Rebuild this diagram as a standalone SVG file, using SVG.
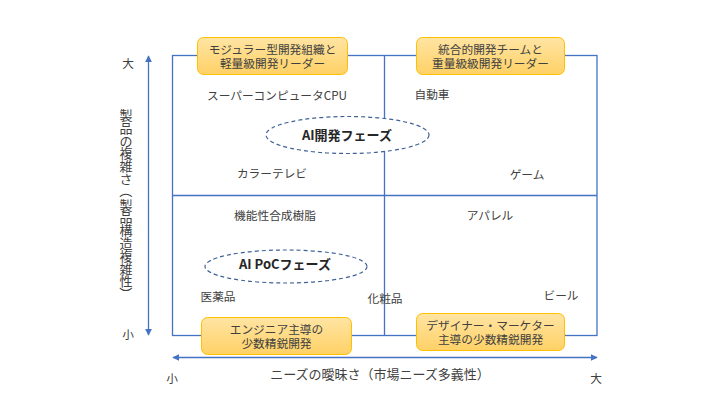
<svg xmlns="http://www.w3.org/2000/svg" width="720" height="405" viewBox="0 0 720 405">
<style>
.t{font-family:"Noto Sans CJK JP","Noto Sans",sans-serif;font-size:11.7px;fill:#404040;text-anchor:middle;dominant-baseline:central}
.ax{font-size:13px}
.b{font-family:"Noto Sans CJK JP","Noto Sans",sans-serif;font-size:13px;font-weight:bold;fill:#262626;text-anchor:middle;dominant-baseline:central}
.ln{stroke:#4472C4;stroke-width:1.3;fill:none}
.box{fill:url(#g);stroke:#FFC000;stroke-width:1}
.ell{fill:#fff;stroke:#3F6198;stroke-width:1.2;stroke-dasharray:4 3}
</style>
<defs>
<linearGradient id="g" x1="0" y1="0" x2="0" y2="1">
<stop offset="0" stop-color="#FFE4A3"/>
<stop offset="1" stop-color="#FFD166"/>
</linearGradient>
<marker id="ah" viewBox="0 0 10 10" refX="9" refY="5" markerWidth="7" markerHeight="7" markerUnits="userSpaceOnUse" orient="auto-start-reverse">
<path d="M0,0L10,5L0,10z" fill="#4472C4"/>
</marker>
</defs>
<rect width="720" height="405" fill="#fff"/>
<g id="connectors">
<rect class="ln" x="172.5" y="55.5" width="424.5" height="280"/>
<line class="ln" x1="384.5" y1="55.5" x2="384.5" y2="335.5"/>
<line class="ln" x1="172.5" y1="195.5" x2="597" y2="195.5"/>
<line class="ln" x1="148.5" y1="56" x2="148.5" y2="335" marker-start="url(#ah)" marker-end="url(#ah)"/>
<line class="ln" x1="173" y1="357.5" x2="597" y2="357.5" marker-start="url(#ah)" marker-end="url(#ah)"/>
</g>
<g id="axis-labels">
<text class="t" x="128" y="62">大</text>
<text class="t" x="128" y="333">小</text>
<text class="t" x="172" y="377">小</text>
<text class="t" x="596" y="377">大</text>
<text class="t ax" x="126 126 126 126 126 126" y="114.4 127.2 140 152.8 165.6 178.4">製品の複雑さ</text>
<text class="t ax" x="126" y="191.2" transform="rotate(90 126 191.2)">（</text>
<text class="t ax" x="126 126 126 126 126 126 126" y="204 216.8 229.6 242.4 255.2 268 280.8">製品構造複雑性</text>
<text class="t ax" x="126" y="293.6" transform="rotate(90 126 293.6)">）</text>
<text class="t ax" x="380" y="373">ニーズの曖昧さ（市場ニーズ多義性）</text>
</g>
<g id="box-modular">
<rect class="box" x="197.5" y="37.5" width="150" height="37" rx="6"/>
<text class="t" x="272.5" y="48">モジュラー型開発組織と</text>
<text class="t" x="272.5" y="62">軽量級開発リーダー</text>
</g>
<g id="box-integrated">
<rect class="box" x="416.5" y="37.5" width="148" height="37" rx="6"/>
<text class="t" x="490.5" y="48">統合的開発チームと</text>
<text class="t" x="490.5" y="62">重量級級開発リーダー</text>
</g>
<g id="box-engineer">
<rect class="box" x="201.5" y="317.5" width="150" height="37" rx="6"/>
<text class="t" x="276.5" y="328">エンジニア主導の</text>
<text class="t" x="276.5" y="342">少数精鋭開発</text>
</g>
<g id="box-designer">
<rect class="box" x="416.5" y="313.5" width="148" height="37" rx="6"/>
<text class="t" x="490.5" y="324">デザイナー・マーケター</text>
<text class="t" x="490.5" y="338">主導の少数精鋭開発</text>
</g>
<g id="ellipse-ai-dev">
<ellipse class="ell" cx="347.5" cy="135" rx="81.5" ry="18.5"/>
<text class="b" x="347" y="134">AI開発フェーズ</text>
</g>
<g id="ellipse-ai-poc">
<ellipse class="ell" cx="286" cy="266.5" rx="81" ry="16.5"/>
<text class="b" x="285" y="263">AI PoCフェーズ</text>
</g>
<g id="items">
<text class="t" x="277" y="94">スーパーコンピュータCPU</text>
<text class="t" x="272" y="172">カラーテレビ</text>
<text class="t" x="432" y="93">自動車</text>
<text class="t" x="527" y="173">ゲーム</text>
<text class="t" x="275" y="214">機能性合成樹脂</text>
<text class="t" x="490" y="214">アパレル</text>
<text class="t" x="218" y="295">医薬品</text>
<text class="t" x="385" y="297">化粧品</text>
<text class="t" x="561" y="294">ビール</text>
</g>
</svg>
